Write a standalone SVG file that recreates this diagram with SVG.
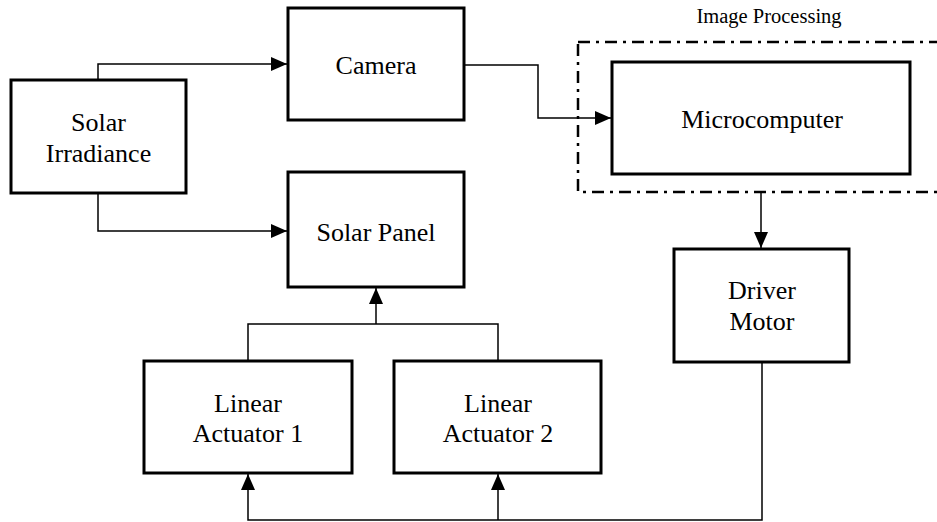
<svg xmlns="http://www.w3.org/2000/svg" width="937" height="522" viewBox="0 0 937 522">
<style>
.box{fill:#fff;stroke:#000;stroke-width:3}
.lbl{font-family:"Liberation Serif","Times New Roman",serif;font-size:26px;fill:#000;text-anchor:middle}
.small{font-family:"Liberation Serif","Times New Roman",serif;font-size:20.5px;fill:#000;text-anchor:middle}
.conn{fill:none;stroke:#000;stroke-width:1.5}
.group{fill:none;stroke:#000;stroke-width:2.5;stroke-dasharray:12 6 3 6}
</style>
<defs>
<marker id="ah" viewBox="0 0 16 14" refX="16" refY="7" markerWidth="16" markerHeight="14" markerUnits="userSpaceOnUse" orient="auto">
<path d="M0,0 L16,7 L0,14 Z" fill="#000"/>
</marker>
</defs>
<g id="image-processing">
<rect class="group" x="578" y="42" width="370" height="150"/>
<text class="small" x="769" y="23">Image Processing</text>
</g>
<g id="connectors">
<polyline class="conn" points="98,80 98,64 287,64" marker-end="url(#ah)"/>
<polyline class="conn" points="98,193 98,231 287,231" marker-end="url(#ah)"/>
<polyline class="conn" points="464,65 538,65 538,118 611,118" marker-end="url(#ah)"/>
<polyline class="conn" points="761,192 761,248" marker-end="url(#ah)"/>
<polyline class="conn" points="248,361 248,324 498,324 498,361"/>
<polyline class="conn" points="376,324 376,288" marker-end="url(#ah)"/>
<polyline class="conn" points="762,362 762,520 248,520 248,474" marker-end="url(#ah)"/>
<polyline class="conn" points="498,520 498,474" marker-end="url(#ah)"/>
</g>
<g id="solar-irradiance">
<rect class="box" x="11" y="80" width="175" height="113"/>
<text class="lbl" x="98.5" y="131">Solar</text>
<text class="lbl" x="98.5" y="162">Irradiance</text>
</g>
<g id="camera">
<rect class="box" x="288" y="8" width="176" height="112"/>
<text class="lbl" x="376" y="74">Camera</text>
</g>
<g id="solar-panel">
<rect class="box" x="288" y="172" width="176" height="115"/>
<text class="lbl" x="376" y="241">Solar Panel</text>
</g>
<g id="microcomputer">
<rect class="box" x="612" y="62" width="298" height="112"/>
<text class="lbl" x="762" y="128">Microcomputer</text>
</g>
<g id="driver-motor">
<rect class="box" x="674" y="249" width="175" height="113"/>
<text class="lbl" x="762" y="299">Driver</text>
<text class="lbl" x="762" y="330">Motor</text>
</g>
<g id="linear-actuator-1">
<rect class="box" x="144" y="361" width="208" height="112"/>
<text class="lbl" x="248" y="412">Linear</text>
<text class="lbl" x="248" y="442">Actuator 1</text>
</g>
<g id="linear-actuator-2">
<rect class="box" x="394" y="361" width="207" height="112"/>
<text class="lbl" x="498" y="412">Linear</text>
<text class="lbl" x="498" y="442">Actuator 2</text>
</g>
</svg>
